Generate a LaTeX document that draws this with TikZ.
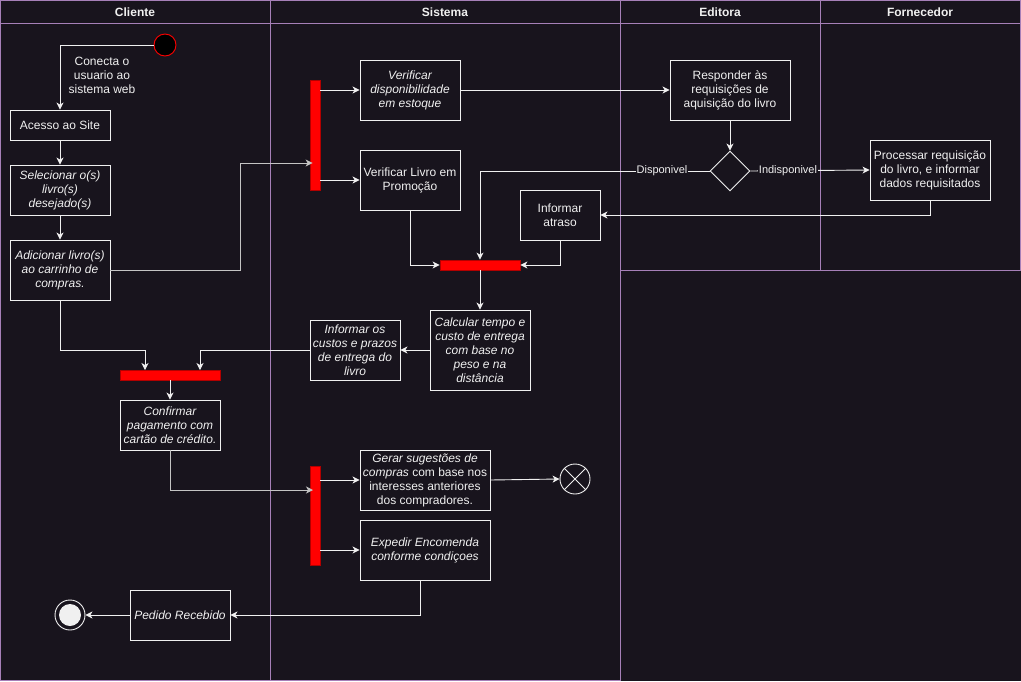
\documentclass[tikz,border=0pt]{standalone}
\usepackage{fontspec}
\setmainfont{Liberation Sans}
\usetikzlibrary{arrows.meta,shapes.geometric,calc}
\definecolor{bg}{HTML}{18141D}
\definecolor{lane}{HTML}{A680B8}
\definecolor{ink}{HTML}{F0F0F0}
\definecolor{soft}{HTML}{C4C4C4}
\definecolor{barfill}{HTML}{FF0000}
\definecolor{barline}{HTML}{B20000}
\tikzset{
  every node/.style={font=\fontsize{12}{14}\selectfont, text=ink},
  act/.style={draw=ink, fill=bg, align=center, inner sep=0pt, line width=0.9pt},
  syncbar/.style={draw=barline, fill=barfill, inner sep=0pt, line width=0.8pt},
  flow/.style={draw=ink, line width=0.9pt, -{Stealth[length=7pt,width=7pt,inset=2pt]}},
  grayflow/.style={flow, draw=soft},
  guard/.style={fill=bg, inner sep=1pt, font=\fontsize{11}{13}\selectfont},
  lanebox/.style={draw=lane, line width=0.9pt},
  lanehead/.style={font=\fontsize{12}{14}\selectfont\bfseries}
}
\begin{document}
\begin{tikzpicture}[x=1pt, y=-1pt]
  % canvas
  \fill[bg] (0,0) rectangle (1021,681);
  \useasboundingbox (0,0) rectangle (1021,681);

  % swimlanes
  \draw[lanebox] (0.5,0.5) rectangle (270,680.5);
  \draw[lanebox] (270,0.5) rectangle (620,680.5);
  \draw[lanebox] (620,0.5) rectangle (820,270);
  \draw[lanebox] (820,0.5) rectangle (1020.5,270);
  \draw[lanebox] (0.5,23) -- (1020.5,23);
  \node[lanehead] (hcli) at (135,12) {Cliente};
  \node[lanehead] (hsis) at (445,12) {Sistema};
  \node[lanehead] (hedi) at (720,12) {Editora};
  \node[lanehead] (hfor) at (920,12) {Fornecedor};

  % Cliente lane
  \node[circle, draw=red, fill=black, minimum size=22, inner sep=0pt, line width=0.9pt] (start) at (165,45) {};
  \node[act, minimum width=100, minimum height=30] (acesso) at (60,125) {Acesso ao Site};
  \node[act, minimum width=100, minimum height=50, font=\fontsize{12}{14}\selectfont\itshape] (selec) at (60,190) {Selecionar o(s)\\livro(s)\\desejado(s)};
  \node[act, minimum width=100, minimum height=60, font=\fontsize{12}{14}\selectfont\itshape] (adic) at (60,270) {Adicionar livro(s)\\ao carrinho de\\compras.};
  \node[syncbar, minimum width=100, minimum height=10] (bar3) at (170,375) {};
  \node[act, minimum width=100, minimum height=50, font=\fontsize{12}{14}\selectfont\itshape] (conf) at (170,425) {Confirmar\\pagamento com\\cartão de crédito.};
  \node[act, minimum width=100, minimum height=50, font=\fontsize{12}{14}\selectfont\itshape] (ped) at (180,615) {Pedido Recebido};
  \node[circle, draw=ink, fill=bg, minimum size=30, inner sep=0pt, line width=0.9pt] (endn) at (70,615) {};
  \node[circle, fill=ink, minimum size=22, inner sep=0pt] (endin) at (endn) {};

  % Sistema lane
  \node[syncbar, minimum width=10, minimum height=110] (bar1) at (315,135) {};
  \node[act, minimum width=100, minimum height=60, font=\fontsize{12}{14}\selectfont\itshape] (disp) at (410,90) {Verificar\\disponibilidade\\em estoque};
  \node[act, minimum width=100, minimum height=60] (promo) at (410,180) {Verificar Livro em\\Promoção};
  \node[act, minimum width=80, minimum height=50] (atr) at (560,215) {Informar\\atraso};
  \node[syncbar, minimum width=80, minimum height=10] (bar2) at (480,265) {};
  \node[act, minimum width=100, minimum height=80, font=\fontsize{12}{14}\selectfont\itshape] (calc) at (480,350) {Calcular tempo e\\custo de entrega\\com base no\\peso e na\\distância};
  \node[act, minimum width=90, minimum height=60, font=\fontsize{12}{14}\selectfont\itshape] (infc) at (355,350) {Informar os\\custos e prazos\\de entrega do\\livro};
  \node[syncbar, minimum width=10, minimum height=99] (bar4) at (315,515.5) {};
  \node[act, minimum width=130, minimum height=60] (gerar) at (425,480) {\textit{Gerar sugestões de}\\\textit{compras} com base nos\\interesses anteriores\\dos compradores.};
  \node[act, minimum width=130, minimum height=60, font=\fontsize{12}{14}\selectfont\itshape] (exped) at (425,550) {Expedir Encomenda\\conforme condiçoes};
  \node[circle, draw=ink, fill=bg, minimum size=30, inner sep=0pt, line width=0.9pt] (ffin) at (575,479) {};
  \draw[ink, line width=0.9pt] (ffin.north west) -- (ffin.south east);
  \draw[ink, line width=0.9pt] (ffin.north east) -- (ffin.south west);

  % Editora lane
  \node[act, minimum width=120, minimum height=60] (resp) at (730,90) {Responder às\\requisições de\\aquisição do livro};
  \node[diamond, draw=ink, fill=bg, minimum width=40, minimum height=40, inner sep=0pt, line width=0.9pt] (dec) at (730,171) {};

  % Fornecedor lane
  \node[act, minimum width=120, minimum height=60] (proc) at (930,170) {Processar requisição\\do livro, e informar\\dados requisitados};

  % bend points
  \coordinate (j1) at (240,163);
  \coordinate (j3l) at (145,350);
  \coordinate (b3l) at (145,370);
  \coordinate (b3r) at (200,370);
  \coordinate (j4) at (313,490);
  \coordinate (exout) at ($(exped.south)+(-5,0)$);

  % control flow
  \draw[flow] (start.west) -| (acesso.north);
  \node[align=center] (conlbl) at (102,75) {Conecta o\\usuario ao\\sistema web};
  \draw[flow] (acesso.south) -- (selec.north);
  \draw[flow] (selec.south) -- (adic.north);
  \draw[grayflow] (adic.east) -| (j1) -- ($(bar1.west |- j1)+(3,0)$);
  \draw[flow] (bar1.east |- disp.west) -- (disp.west);
  \draw[flow] (bar1.east |- promo.west) -- (promo.west);
  \draw[flow] (disp.east) -- (resp.west);
  \draw[flow] (resp.south) -- (dec.north);
  \draw[flow] (dec.west) -| (bar2.north);
  \node[guard] (gdisp) at (662,171) {Disponivel};
  \draw[flow] (dec.east) -- (proc.west);
  \node[guard] (gindi) at (788,171) {Indisponivel};
  \draw[flow] (proc.south) |- (atr.east);
  \draw[flow] (atr.south) |- (bar2.east);
  \draw[flow] (promo.south) |- (bar2.west);
  \draw[flow] (bar2.south) -- (calc.north);
  \draw[flow] (calc.west) -- (infc.east);
  \draw[flow] (infc.west) -| (b3r);
  \draw[flow] (adic.south) |- (j3l) -- (b3l);
  \draw[flow] (bar3.south) -- (conf.north);
  \draw[grayflow] (conf.south) |- (j4);
  \draw[flow] (bar4.east |- gerar.west) -- (gerar.west);
  \draw[flow] (bar4.east |- exped.west) -- (exped.west);
  \draw[flow] (gerar.east) -- (ffin.west);
  \draw[flow] (exout) |- (ped.east);
  \draw[flow] (ped.west) -- (endn.east);
\end{tikzpicture}
\end{document}
